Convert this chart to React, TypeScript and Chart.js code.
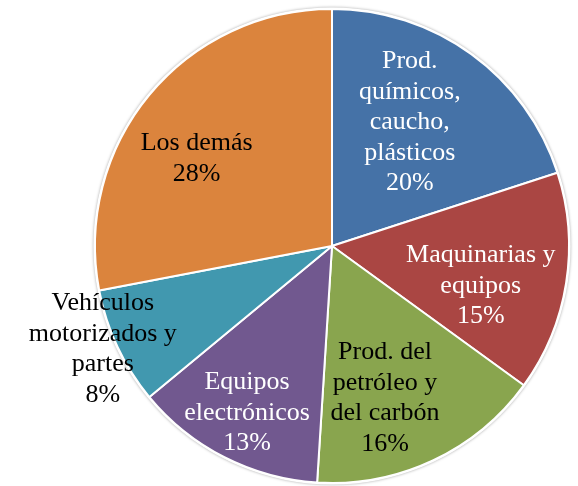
import React, { useEffect, useRef } from "react";
import { Chart, registerables } from "chart.js";

Chart.register(...registerables);

const categories = [
  "Prod. químicos, caucho, plásticos",
  "Maquinarias y equipos",
  "Prod. del petróleo y del carbón",
  "Equipos electrónicos",
  "Vehículos motorizados y partes",
  "Los demás",
];
const shares = [20, 15, 16, 13, 8, 28];
const labelLines = [
  ["Prod.", "químicos,", "caucho,", "plásticos"],
  ["Maquinarias y", "equipos"],
  ["Prod. del", "petróleo y", "del carbón"],
  ["Equipos", "electrónicos"],
  ["Vehículos", "motorizados y", "partes"],
  ["Los demás"],
];

const colors = ["#4572A7", "#AA4643", "#89A54E", "#71588F", "#4198AF", "#DB843D"];
const textColors = ["#FFFFFF", "#FFFFFF", "#000000", "#FFFFFF", "#000000", "#000000"];
// label placement: [radius fraction, angle nudge in degrees]
const labelPlacement: [number, number][] = [
  [0.616, -3.8],
  [0.65, 6],
  [0.68, 6],
  [0.79, 0],
  [1.06, 1],
  [0.68, -6.7],
];

const FONT_SIZE = 26;
const LINE_H = 30.5;

const labelPlugin = {
  id: "sliceLabels",
  beforeDatasetsDraw(chart: any) {
    const meta = chart.getDatasetMeta(0);
    const arc = meta.data[0];
    if (!arc) return;
    const ctx = chart.ctx;
    ctx.save();
    ctx.beginPath();
    ctx.arc(arc.x, arc.y, arc.outerRadius + 1.5, 0, Math.PI * 2);
    ctx.shadowColor = "rgba(0,0,0,0.35)";
    ctx.shadowBlur = 3;
    ctx.fillStyle = "#ffffff";
    ctx.fill();
    ctx.restore();
  },
  afterDatasetsDraw(chart: any) {
    const meta = chart.getDatasetMeta(0);
    const ctx = chart.ctx;
    ctx.save();
    ctx.font = `${FONT_SIZE}px "Liberation Serif", "Times New Roman", serif`;
    ctx.textAlign = "center";
    ctx.textBaseline = "middle";
    meta.data.forEach((el: any, i: number) => {
      const [frac, nudge] = labelPlacement[i];
      const mid = (el.startAngle + el.endAngle) / 2 + (nudge * Math.PI) / 180;
      const r = el.outerRadius * frac;
      const cx = el.x + Math.cos(mid) * r;
      const cy = el.y + Math.sin(mid) * r;
      const lines = [...labelLines[i], `${shares[i]}%`];
      const top = cy - ((lines.length - 1) * LINE_H) / 2;
      ctx.fillStyle = textColors[i];
      lines.forEach((t, k) => ctx.fillText(t, cx, top + k * LINE_H));
    });
    ctx.restore();
  },
};

export default function App() {
  const ref = useRef<HTMLCanvasElement>(null);
  useEffect(() => {
    if (!ref.current) return;
    const chart = new Chart(ref.current, {
      type: "pie",
      data: {
        labels: categories,
        datasets: [
          {
            data: shares,
            backgroundColor: colors,
            borderColor: "#FFFFFF",
            borderWidth: 2,
          },
        ],
      },
      options: {
        animation: false,
        responsive: false,
        layout: { padding: { left: 94, right: 8, top: 8, bottom: 2 } },
        plugins: {
          legend: { display: false },
          tooltip: { enabled: false },
        },
      },
      plugins: [labelPlugin],
    });
    return () => chart.destroy();
  }, []);
  return (
    <div style={{ position: "fixed", left: 0, top: 0, width: 578, height: 486, background: "#fff" }}>
      <canvas ref={ref} width={578} height={486} />
    </div>
  );
}
